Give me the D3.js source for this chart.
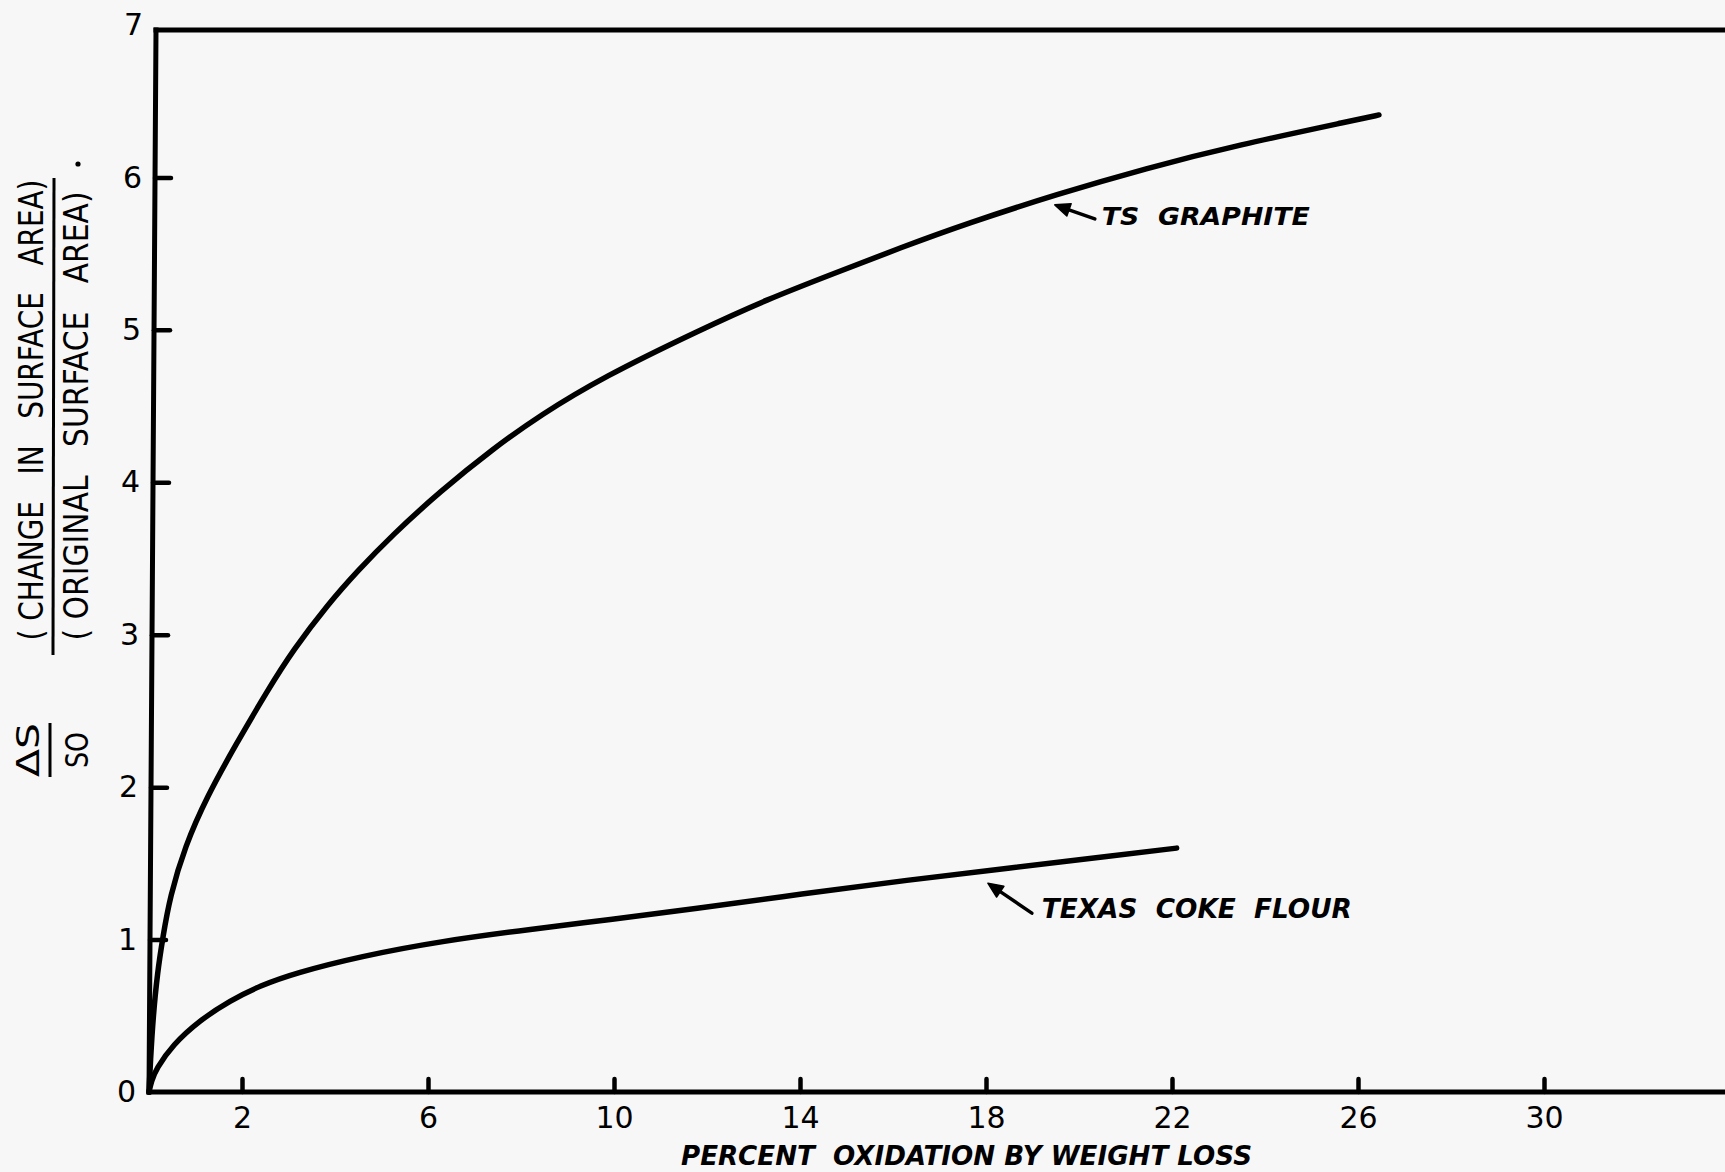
<!DOCTYPE html>
<html>
<head>
<meta charset="utf-8">
<script src="https://cdn.jsdelivr.net/npm/d3@7"></script>
<style>
  html, body { margin: 0; padding: 0; background: #f7f7f7; }
  svg { display: block; }
  svg text { white-space: pre; }
</style>
</head>
<body>
<svg id="chart" width="1725" height="1172"></svg>
<script>
// Percent oxidation (weight loss) vs. relative change in surface area ΔS/So
const graphiteX = [0, 0.03, 0.09, 0.18, 0.3, 0.45, 0.77, 1.25, 1.85, 2.54, 3.1, 3.85, 4.49, 5.22, 6.26, 7.4, 8.41, 9.76, 11.85, 13.29, 14.73, 16.17, 17.61, 19.53, 21.44, 23.38, 26.0, 26.45];
const graphiteY = [0, 0.2, 0.5, 0.78, 1.02, 1.28, 1.61, 1.94, 2.27, 2.63, 2.9, 3.2, 3.42, 3.65, 3.94, 4.22, 4.44, 4.69, 5.0, 5.2, 5.37, 5.54, 5.7, 5.89, 6.06, 6.21, 6.38, 6.41];

const cokeX = [0, 0.05, 0.15, 0.51, 1.09, 1.74, 2.41, 3.14, 4.54, 6.28, 8.26, 9.89, 11.7, 14.06, 16.3, 18.52, 20.73, 22.1];
const cokeY = [0, 0.07, 0.15, 0.31, 0.47, 0.60, 0.70, 0.78, 0.89, 0.99, 1.07, 1.13, 1.20, 1.30, 1.39, 1.47, 1.55, 1.60];

const xTickValues = [2, 6, 10, 14, 18, 22, 26, 30];
const yTickValues = [0, 1, 2, 3, 4, 5, 6, 7];

const seriesNames = ["TS  GRAPHITE", "TEXAS  COKE  FLOUR"];
// point on each curve that its label arrow points at
const arrowTargets = [[19.48, 5.82], [18.04, 1.37]];

const xTitle = "PERCENT  OXIDATION BY WEIGHT LOSS";
const yTitleTop = "( CHANGE   IN   SURFACE   AREA)";
const yTitleBottom = "( ORIGINAL   SURFACE   AREA)";

const W = 1725, H = 1172;
const INK = "#000";
const svg = d3.select("#chart");

const x = d3.scaleLinear().domain([0, 34]).range([149, 149 + 34 * 46.5]);
const y = d3.scaleLinear().domain([0, 7]).range([1092, 25]);

// frame: slightly leaning left axis, top rule, bottom axis
const topRule = y(7) + 5;
const lean = 7;
const frame = svg.append("g")
  .attr("stroke", INK).attr("stroke-width", 5).attr("fill", "none")
  .attr("stroke-linecap", "square");
frame.append("line").attr("x1", x(0)).attr("y1", y(0)).attr("x2", x(0) + lean).attr("y2", topRule);
frame.append("line").attr("x1", x(0) + lean).attr("y1", topRule).attr("x2", W + 5).attr("y2", topRule);
frame.append("line").attr("x1", x(0)).attr("y1", y(0)).attr("x2", W + 5).attr("y2", y(0));

// bottom axis: ticks pointing up into the plot
const xAxis = d3.axisBottom(x)
  .tickValues(xTickValues)
  .tickFormat(d3.format("d"))
  .tickSizeInner(-13).tickSizeOuter(0).tickPadding(15);
const gx = svg.append("g").attr("transform", `translate(0,${y(0)})`).call(xAxis);
gx.select(".domain").remove();
gx.selectAll(".tick line").attr("stroke", INK).attr("stroke-width", 4.5).attr("stroke-linecap", "round");
gx.selectAll(".tick text")
  .attr("fill", INK)
  .style("font-family", "'DejaVu Sans', sans-serif")
  .style("font-size", "30px");

// left axis: ticks pointing right into the plot, following the axis lean
const yAxis = d3.axisLeft(y)
  .tickValues(yTickValues)
  .tickFormat(d3.format("d"))
  .tickSizeInner(-16).tickSizeOuter(0).tickPadding(10);
const gy = svg.append("g").attr("transform", `translate(${x(0)},0)`).call(yAxis);
gy.select(".domain").remove();
gy.selectAll(".tick line")
  .attr("stroke", INK).attr("stroke-width", 4.5).attr("stroke-linecap", "round")
  .attr("transform", d => `translate(${d / 7 * lean},0)`)
  .filter(d => d === 0 || d === 7).remove();
gy.selectAll(".tick text")
  .attr("fill", INK)
  .attr("x", d => -13 + d / 7 * lean)
  .style("font-family", "'DejaVu Sans', sans-serif")
  .style("font-size", "30px");

// curves
const line = d3.line()
  .x(d => x(d[0]))
  .y(d => y(d[1]))
  .curve(d3.curveBasis);

const series = [
  d3.zip(graphiteX, graphiteY),
  d3.zip(cokeX, cokeY)
];
svg.append("g")
  .selectAll("path")
  .data(series)
  .join("path")
  .attr("d", line)
  .attr("fill", "none")
  .attr("stroke", INK)
  .attr("stroke-width", 5.5)
  .attr("stroke-linecap", "round")
  .attr("stroke-linejoin", "round");

// labels with arrows
const labelStyle = [
  { dx: 40, dy: 14, tx: 47, ty: 20, size: 25, len: 208 },
  { dx: 44, dy: 30, tx: 54, ty: 35, size: 27, len: 310 }
];
const ann = svg.append("g");
seriesNames.forEach((name, i) => {
  const [px, py] = [x(arrowTargets[i][0]), y(arrowTargets[i][1])];
  const s = labelStyle[i];
  const tail = [px + s.dx, py + s.dy];
  const ang = Math.atan2(py - tail[1], px - tail[0]);
  const hl = 15, hw = 6.5;
  const base = [px - hl * Math.cos(ang), py - hl * Math.sin(ang)];
  ann.append("line")
    .attr("x1", tail[0]).attr("y1", tail[1])
    .attr("x2", base[0]).attr("y2", base[1])
    .attr("stroke", INK).attr("stroke-width", 3.5).attr("stroke-linecap", "round");
  ann.append("path")
    .attr("d", d3.line()([
      [px, py],
      [base[0] + hw * Math.sin(ang), base[1] - hw * Math.cos(ang)],
      [base[0] - hw * Math.sin(ang), base[1] + hw * Math.cos(ang)]
    ]) + "Z")
    .attr("fill", INK).attr("stroke", INK).attr("stroke-width", 1.5).attr("stroke-linejoin", "round");
  ann.append("text")
    .attr("x", px + s.tx).attr("y", py + s.ty)
    .attr("textLength", s.len).attr("lengthAdjust", "spacingAndGlyphs")
    .attr("fill", INK)
    .style("font-family", "'DejaVu Sans', sans-serif")
    .style("font-style", "italic").style("font-weight", "bold")
    .style("font-size", s.size + "px")
    .text(name);
});

// x axis title
svg.append("text")
  .attr("x", 681).attr("y", 1165)
  .attr("textLength", 571).attr("lengthAdjust", "spacingAndGlyphs")
  .attr("fill", INK)
  .style("font-family", "'DejaVu Sans', sans-serif")
  .style("font-style", "italic").style("font-weight", "bold")
  .style("font-size", "26px")
  .text(xTitle);

// y axis title: ΔS/So = (change in surface area)/(original surface area)
const yt = svg.append("g").attr("fill", INK)
  .style("font-family", "'DejaVu Sans', sans-serif");

function vtext(cx, cy, len, size, str) {
  yt.append("text")
    .attr("transform", `translate(${cx},${cy}) rotate(-90)`)
    .attr("text-anchor", "middle")
    .attr("textLength", len).attr("lengthAdjust", "spacingAndGlyphs")
    .style("font-size", size + "px")
    .text(str);
}
vtext(43, 410, 461, 33, yTitleTop);
vtext(88, 416, 449, 33, yTitleBottom);
vtext(39, 750, 54, 32, "ΔS");
vtext(88, 750, 36, 32, "SO");

yt.append("line").attr("x1", 54).attr("y1", 178).attr("x2", 53).attr("y2", 655)
  .attr("stroke", INK).attr("stroke-width", 3);
yt.append("line").attr("x1", 50).attr("y1", 723).attr("x2", 50).attr("y2", 777)
  .attr("stroke", INK).attr("stroke-width", 3);
yt.append("circle").attr("cx", 78).attr("cy", 164).attr("r", 2.6);
</script>
</body>
</html>
